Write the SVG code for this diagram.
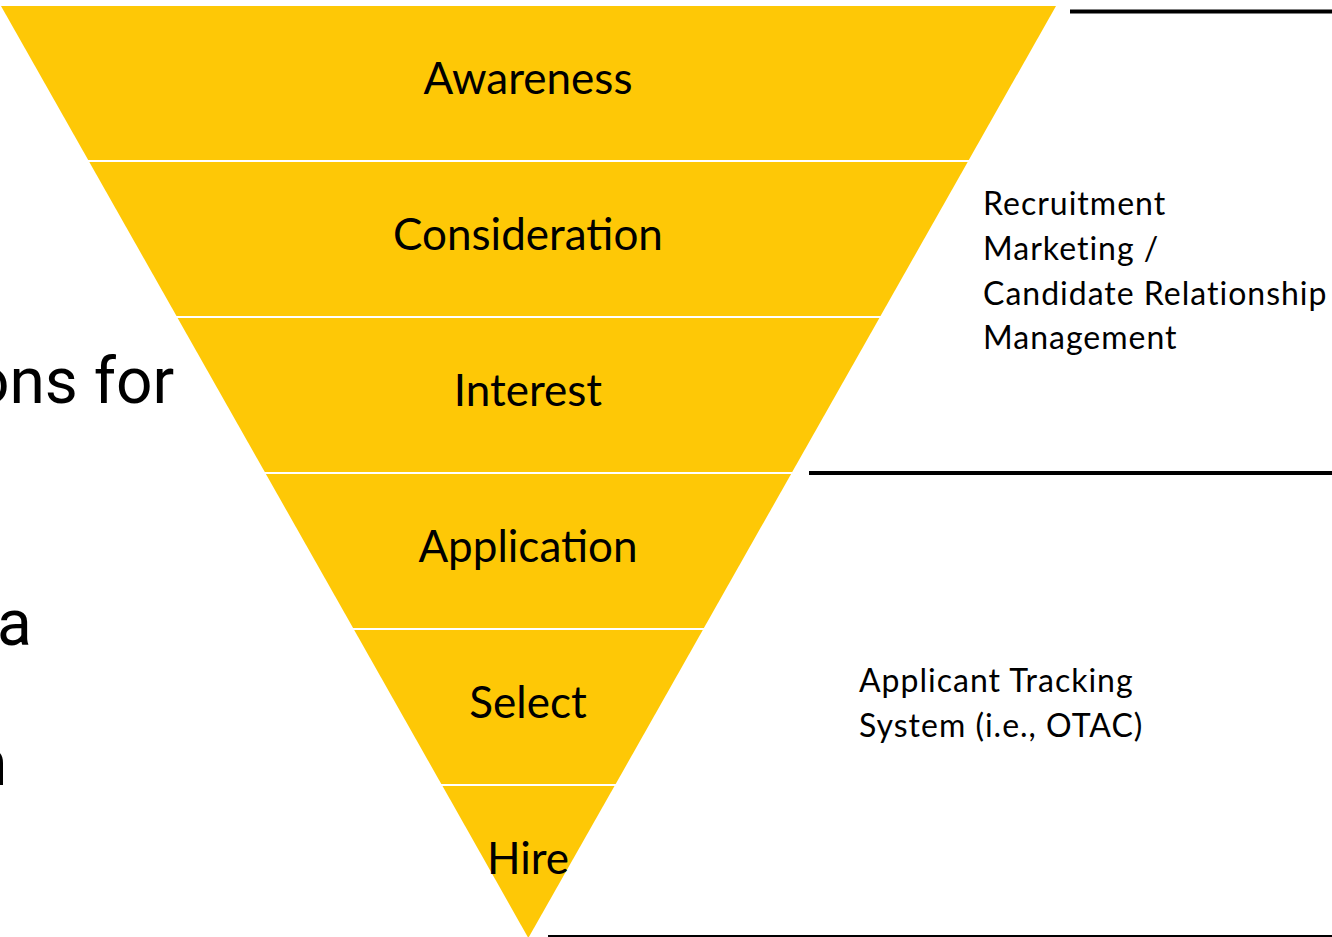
<svg xmlns="http://www.w3.org/2000/svg" width="1332" height="937" viewBox="0 0 1332 937">
  <style>
    .band { fill: #FEC806; }
    .stage { font-family: Lato, "Open Sans", sans-serif; font-size: 44px; fill: #000; text-anchor: middle; }
    .note { font-family: Lato, "Open Sans", sans-serif; font-size: 32px; letter-spacing: 1px; fill: #000; }
    .side { font-family: Roboto, "Liberation Sans", sans-serif; font-size: 64px; fill: #000; }
    .rule { stroke: #000; fill: none; }
  </style>
  <rect width="1332" height="937" fill="#fff"/>

  <!-- partial slide text behind the funnel -->
  <g id="side-text">
    <text class="side" x="-27" y="403">ons for</text>
    <text class="side" x="-3" y="645">a</text>
    <text class="side" x="-28" y="785">n</text>
  </g>

  <!-- funnel stages -->
  <g id="awareness">
    <polygon class="band" points="1,6 1056,6 968.8,160 88.2,160"/>
    <text class="stage" x="528" y="94">Awareness</text>
  </g>
  <g id="consideration">
    <polygon class="band" points="89.3,162 967.7,162 880.5,316 176.5,316"/>
    <text class="stage" x="528" y="250">Consideration</text>
  </g>
  <g id="interest">
    <polygon class="band" points="177.6,318 879.4,318 792.2,472 264.8,472"/>
    <text class="stage" x="528" y="406">Interest</text>
  </g>
  <g id="application">
    <polygon class="band" points="265.9,474 791.1,474 703.9,628 353.1,628"/>
    <text class="stage" x="528" y="562">Application</text>
  </g>
  <g id="select">
    <polygon class="band" points="354.2,630 702.8,630 615.7,784 441.3,784"/>
    <text class="stage" x="528" y="718">Select</text>
  </g>
  <g id="hire">
    <polygon class="band" points="442.5,786 614.5,786 528.3,938"/>
    <text class="stage" x="528" y="874">Hire</text>
  </g>

  <!-- bracket rules on the right -->
  <g id="connectors">
    <line class="rule" x1="1070" y1="11.5" x2="1332" y2="11.5" stroke-width="4"/>
    <line class="rule" x1="809" y1="473" x2="1332" y2="473" stroke-width="4"/>
    <line class="rule" x1="548" y1="936" x2="1332" y2="936" stroke-width="2"/>
  </g>

  <g id="crm-note">
    <text class="note" x="983" y="215">Recruitment</text>
    <text class="note" x="983" y="260">Marketing /</text>
    <text class="note" x="983" y="305">Candidate Relationship</text>
    <text class="note" x="983" y="349">Management</text>
  </g>
  <g id="ats-note">
    <text class="note" x="859" y="692">Applicant Tracking</text>
    <text class="note" x="859" y="737">System (i.e., OTAC)</text>
  </g>
</svg>
